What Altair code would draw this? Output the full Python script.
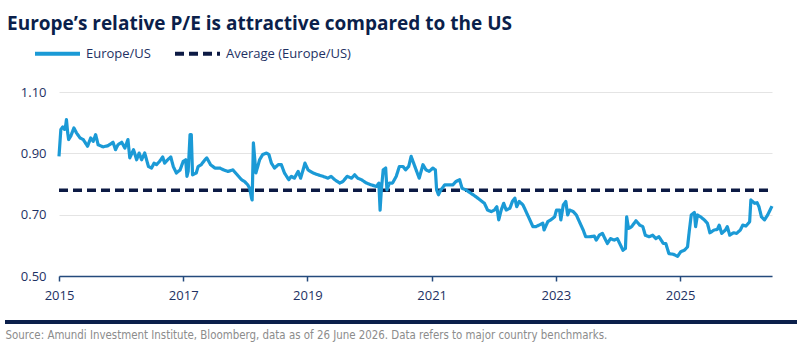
import altair as alt
import pandas as pd

# ---- data ----
years = [
    2015.00, 2015.03, 2015.06, 2015.09, 2015.11, 2015.12, 2015.14, 2015.155, 2015.19, 2015.24,
    2015.28, 2015.34, 2015.39, 2015.46, 2015.51, 2015.55, 2015.59, 2015.63, 2015.71, 2015.79,
    2015.87, 2015.91, 2015.95, 2016.01, 2016.06, 2016.11, 2016.14, 2016.20, 2016.25, 2016.29,
    2016.33, 2016.38, 2016.44, 2016.49, 2016.53, 2016.57, 2016.62, 2016.67, 2016.70, 2016.76,
    2016.80, 2016.84, 2016.89, 2016.95, 2017.00, 2017.04, 2017.06, 2017.08, 2017.11, 2017.13,
    2017.15, 2017.21, 2017.24, 2017.29, 2017.35, 2017.38, 2017.44, 2017.51, 2017.59, 2017.65,
    2017.72, 2017.80, 2017.87, 2017.94, 2017.99, 2018.04, 2018.07, 2018.10, 2018.11, 2018.13,
    2018.17, 2018.20,
    2018.23, 2018.28, 2018.34, 2018.38, 2018.42, 2018.47, 2018.53, 2018.58, 2018.63, 2018.70,
    2018.74, 2018.79, 2018.85, 2018.89, 2018.93, 2018.96, 2019.01, 2019.09, 2019.17, 2019.25,
    2019.33, 2019.38, 2019.44, 2019.52, 2019.57, 2019.64, 2019.71, 2019.76, 2019.81, 2019.87,
    2019.95, 2020.03, 2020.11, 2020.15, 2020.17, 2020.19, 2020.22, 2020.26, 2020.28, 2020.32,
    2020.37, 2020.43, 2020.48, 2020.54, 2020.58, 2020.63, 2020.67, 2020.71, 2020.75, 2020.80,
    2020.86, 2020.91, 2020.96, 2021.02, 2021.06, 2021.08, 2021.11, 2021.15, 2021.21, 2021.29,
    2021.34, 2021.39, 2021.45, 2021.49, 2021.55, 2021.63, 2021.71, 2021.78, 2021.85, 2021.90,
    2021.96, 2022.01, 2022.05, 2022.08, 2022.12, 2022.16, 2022.20, 2022.26, 2022.30, 2022.34,
    2022.37,
    2022.41, 2022.47, 2022.52, 2022.57, 2022.63, 2022.68, 2022.73, 2022.79, 2022.81, 2022.87,
    2022.92, 2022.98, 2023.01, 2023.06, 2023.08, 2023.12, 2023.16, 2023.19, 2023.22, 2023.28,
    2023.33, 2023.39, 2023.44, 2023.48, 2023.54, 2023.62, 2023.65, 2023.70, 2023.75, 2023.79,
    2023.83, 2023.88, 2023.94, 2023.99, 2024.04, 2024.08, 2024.12, 2024.14, 2024.17, 2024.22,
    2024.29, 2024.35, 2024.40, 2024.44, 2024.50, 2024.56, 2024.61, 2024.66, 2024.73, 2024.77,
    2024.82, 2024.89, 2024.96, 2025.01, 2025.07, 2025.12, 2025.15, 2025.18, 2025.23, 2025.25,
    2025.28, 2025.33, 2025.39, 2025.44, 2025.48, 2025.55, 2025.60, 2025.63, 2025.67, 2025.73,
    2025.76, 2025.80, 2025.86, 2025.91, 2025.97, 2026.01, 2026.06, 2026.12, 2026.14, 2026.20,
    2026.24, 2026.27, 2026.31, 2026.36, 2026.41, 2026.48,
]
europe_us = [
    0.890, 0.978, 0.986, 0.978, 0.994, 1.010, 0.967, 0.945, 0.956, 0.983,
    0.967, 0.950, 0.945, 0.923, 0.950, 0.939, 0.961, 0.928, 0.921, 0.925,
    0.936, 0.912, 0.928, 0.936, 0.917, 0.945, 0.885, 0.912, 0.879, 0.901,
    0.879, 0.901, 0.857, 0.852, 0.868, 0.863, 0.874, 0.888, 0.868, 0.881,
    0.888, 0.857, 0.836, 0.846, 0.874, 0.879, 0.825, 0.841, 0.961, 0.961,
    0.830, 0.836, 0.857, 0.863, 0.879, 0.885, 0.863, 0.852, 0.852, 0.846,
    0.841, 0.846, 0.830, 0.814, 0.808, 0.797, 0.786, 0.754, 0.748, 0.934,
    0.836, 0.857,
    0.879, 0.896, 0.901, 0.896, 0.868, 0.852, 0.863, 0.863, 0.836, 0.814,
    0.825, 0.819, 0.841, 0.819, 0.846, 0.868, 0.846, 0.836, 0.830, 0.825,
    0.819, 0.825, 0.814, 0.803, 0.808, 0.825, 0.819, 0.830, 0.819, 0.814,
    0.803, 0.797, 0.792, 0.803, 0.715, 0.781, 0.846, 0.852, 0.781, 0.803,
    0.803, 0.825, 0.857, 0.857, 0.846, 0.857, 0.890, 0.868, 0.846, 0.819,
    0.863, 0.846, 0.841, 0.852, 0.846, 0.781, 0.765, 0.781, 0.797, 0.797,
    0.797, 0.808, 0.814, 0.786, 0.781, 0.770, 0.759, 0.748, 0.737, 0.715,
    0.710, 0.715, 0.726, 0.683, 0.715, 0.737, 0.715, 0.721, 0.743, 0.754,
    0.726,
    0.743, 0.732, 0.710, 0.688, 0.661, 0.661, 0.666, 0.672, 0.650, 0.677,
    0.683, 0.693, 0.715, 0.715, 0.683, 0.732, 0.743, 0.699, 0.715, 0.710,
    0.699, 0.672, 0.650, 0.628, 0.628, 0.630, 0.617, 0.633, 0.639, 0.622,
    0.606, 0.622, 0.617, 0.622, 0.601, 0.584, 0.590, 0.693, 0.655, 0.661,
    0.680, 0.666, 0.661, 0.633, 0.628, 0.633, 0.622, 0.628, 0.606, 0.606,
    0.573, 0.571, 0.564, 0.579, 0.584, 0.595, 0.650, 0.699, 0.707, 0.661,
    0.699, 0.693, 0.683, 0.672, 0.641, 0.650, 0.652, 0.666, 0.639, 0.650,
    0.661, 0.633, 0.641, 0.639, 0.650, 0.666, 0.663, 0.677, 0.748, 0.737,
    0.739, 0.726, 0.693, 0.683, 0.699, 0.728,
]
average_value = 0.78
average_span = [2015.0, 2026.48]

series_names = ["Europe/US", "Average (Europe/US)"]
series_colors = ["#1b9ad6", "#0c1a44"]
y_ticks = [0.5, 0.7, 0.9, 1.1]
x_ticks = [2015, 2017, 2019, 2021, 2023, 2025]

title_text = "Europe\u2019s relative P/E is attractive compared to the US"
source_text = ("Source: Amundi Investment Institute, Bloomberg, data as of 26 June 2026. "
               "Data refers to major country benchmarks.")

# ---- tables ----
line_df = pd.DataFrame({"year": years, "value": europe_us, "series": series_names[0]})
avg_df = pd.DataFrame({"year": average_span,
                       "value": [average_value] * len(average_span),
                       "series": series_names[1]})

NAVY = "#0b1f4b"
LABEL = "#1e3163"
FONT = "Open Sans"

x_enc = alt.X(
    "year:Q",
    scale=alt.Scale(domain=[2015, 2026.48], nice=False, zero=False),
    axis=alt.Axis(
        values=x_ticks, format="d", grid=False, labelFlush=False,
        domainColor="#244a7c", domainWidth=1.5,
        tickColor="#244a7c", tickSize=5, tickWidth=1.5,
        labelFont=FONT, labelFontSize=13, labelColor=LABEL, labelPadding=8,
        title=source_text, titleAnchor="start", titleAlign="left",
        titleX=-54, titleY=53, titleFont="DejaVu Sans Condensed",
        titleFontSize=11.4, titleFontWeight="normal", titleColor="#8c8c8c",
    ),
)
y_enc = alt.Y(
    "value:Q",
    scale=alt.Scale(domain=[0.5, 1.1], nice=False, zero=False),
    axis=alt.Axis(
        values=y_ticks, format=".2f", grid=True, gridColor="#e4e4e4",
        domain=False, ticks=False, tickSize=0,
        labelFont=FONT, labelFontSize=13, labelColor=LABEL, labelPadding=13,
        title=None,
    ),
)
legend_cfg = dict(
    title=None, orient="none", direction="horizontal",
    legendX=-26, legendY=-63,
    symbolType="stroke", symbolSize=2025, symbolStrokeWidth=4,
    labelFont=FONT, labelFontSize=13, labelColor=LABEL,
    labelOffset=4, columnPadding=16,
)
color_enc = alt.Color(
    "series:N",
    scale=alt.Scale(domain=series_names, range=series_colors),
    legend=alt.Legend(**legend_cfg),
)
dash_enc = alt.StrokeDash(
    "series:N",
    scale=alt.Scale(domain=series_names, range=[[1, 0], [9, 5]]),
    legend=alt.Legend(**legend_cfg),
)

avg_layer = alt.Chart(avg_df).mark_line(strokeWidth=3.5).encode(
    x=x_enc, y=y_enc, color=color_enc, strokeDash=dash_enc
)
main_layer = alt.Chart(line_df).mark_line(strokeWidth=3.2, strokeJoin="round").encode(
    x=x_enc, y=y_enc, color=color_enc, strokeDash=dash_enc
)
footer_rule = alt.Chart(avg_df).mark_rule(color=NAVY, strokeWidth=4).encode(
    x=alt.value(-54), x2=alt.value(738), y=alt.value(230)
)

chart = (
    alt.layer(avg_layer, main_layer, footer_rule)
    .properties(
        width=713, height=184,
        autosize=alt.AutoSizeParams(type="none"),
        padding={"left": 59, "top": 92, "right": 28, "bottom": 76},
        title=alt.TitleParams(
            text=title_text, anchor="start", frame="group",
            font=FONT, fontSize=19, fontWeight="bold", color=NAVY,
            dx=-52, dy=9,
        ),
        background="white",
    )
    .configure_view(stroke=None)
)

chart.save("out.html", embed_options={"renderer": "svg", "actions": False})
